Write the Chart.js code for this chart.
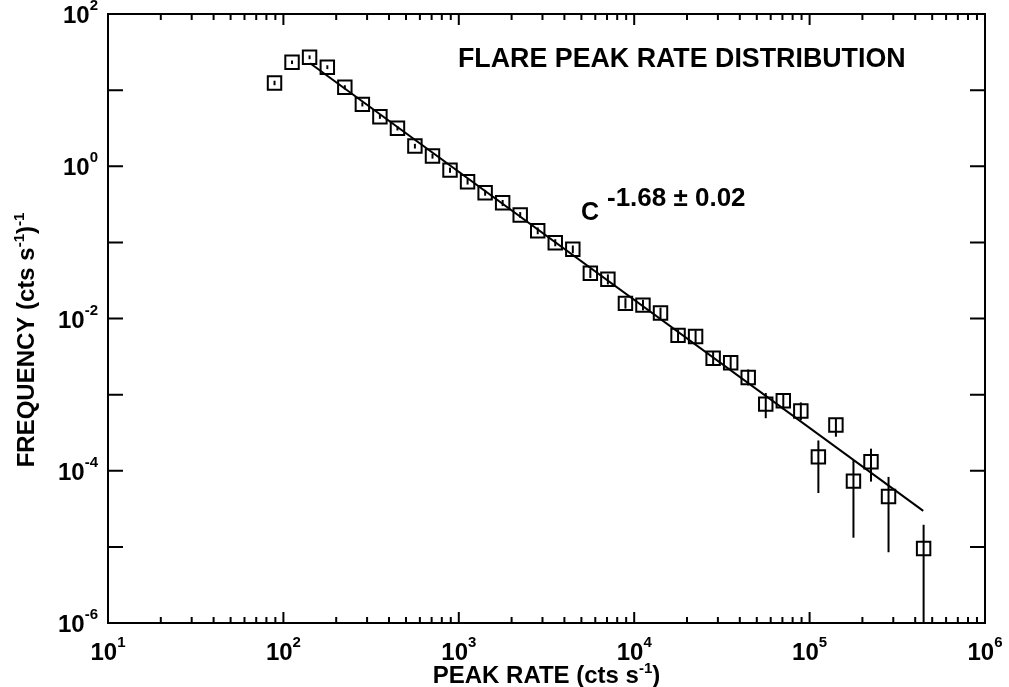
<!DOCTYPE html>
<html>
<head>
<meta charset="utf-8">
<script src="https://cdn.jsdelivr.net/npm/chart.js@4"></script>
<style>
  body { margin: 0; background: #fff; }
  #wrap { width: 1009px; height: 687px; }
</style>
</head>
<body>
<div id="wrap"><canvas id="myChart" width="1009" height="687"></canvas></div>
<script>
// peak rate bins (cts s^-1) and frequency
const peakRate = [89, 112, 141, 178, 224, 282, 355, 447, 562, 708, 891, 1122, 1413, 1778,
  2239, 2818, 3548, 4467, 5623, 7079, 8913, 11220, 14125, 17783, 22387, 28184, 35481,
  44668, 56234, 70795, 89125, 112202, 141254, 177828, 223872, 281838, 446684];
const frequency = [12.4, 23.2, 27, 20, 10.9, 6.5, 4.47, 3.15, 1.84, 1.36, 0.89, 0.625,
  0.449, 0.331, 0.229, 0.142, 0.0989, 0.081, 0.0392, 0.0327, 0.0158, 0.015, 0.0118,
  0.0060, 0.0058, 0.0030, 0.00262, 0.00168, 7.5e-4, 8.3e-4, 6.1e-4, 1.52e-4, 3.98e-4,
  7.3e-5, 1.31e-4, 4.6e-5, 9.5e-6];
const freqLow = [11.6, 22.0, 25.5, 18.9, 10.2, 6.1, 4.2, 2.95, 1.71, 1.26, 0.82, 0.575,
  0.41, 0.30, 0.21, 0.128, 0.089, 0.072, 0.034, 0.028, 0.0135, 0.0128, 0.0100,
  0.0050, 0.0048, 0.0024, 0.0021, 0.00132, 4.9e-4, 6.4e-4, 4.6e-4, 5.1e-5, 2.8e-4,
  1.32e-5, 7.2e-5, 8.5e-6, 1e-7];
const freqHigh = [13.3, 24.5, 28.6, 21.2, 11.6, 6.9, 4.75, 3.36, 1.97, 1.46, 0.96, 0.68,
  0.49, 0.36, 0.25, 0.157, 0.110, 0.091, 0.045, 0.038, 0.0185, 0.0176, 0.0139,
  0.0072, 0.0070, 0.0037, 0.0033, 0.00214, 1.05e-3, 1.05e-3, 7.9e-4, 2.5e-4, 4.9e-4,
  1.38e-4, 1.95e-4, 8.3e-5, 1.95e-5];

// power law fit, end points
const fitRate = [142, 444600];
const fitFreq = [22.5, 2.97e-5];

const xDecades = [1, 2, 3, 4, 5, 6];
const yDecades = [2, 1, 0, -1, -2, -3, -4, -5, -6];
const yLabelDecades = [2, 0, -2, -4, -6];

const FONT = '"Liberation Sans", Arial, Helvetica, sans-serif';

// text with superscripts: parts = [[text, isSup], ...]
const drawRich = (c, parts, x, y, align, big, small, rise) => {
  let w = 0;
  parts.forEach((p) => {
    c.font = `bold ${p[1] ? small : big}px ${FONT}`;
    w += c.measureText(p[0]).width;
  });
  let cx = align === "center" ? x - w / 2 : align === "right" ? x - w : x;
  c.textAlign = "left";
  c.textBaseline = "alphabetic";
  parts.forEach((p) => {
    c.font = `bold ${p[1] ? small : big}px ${FONT}`;
    c.fillText(p[0], cx, p[1] ? y - rise : y);
    cx += c.measureText(p[0]).width;
  });
};

const errorBars = {
  id: "errorBars",
  afterDatasetsDraw(chart) {
    const c = chart.ctx;
    const xs = chart.scales.x;
    const ys = chart.scales.y;
    const a = chart.chartArea;
    c.save();
    c.beginPath();
    c.rect(a.left, a.top, a.right - a.left, a.bottom - a.top);
    c.clip();
    c.strokeStyle = "#000";
    c.lineWidth = 2;
    peakRate.forEach((r, i) => {
      const px = xs.getPixelForValue(r);
      c.beginPath();
      c.moveTo(px, ys.getPixelForValue(freqLow[i]));
      c.lineTo(px, ys.getPixelForValue(freqHigh[i]));
      c.stroke();
    });
    c.restore();
  },
};

const frame = {
  id: "frame",
  afterDraw(chart) {
    const c = chart.ctx;
    const xs = chart.scales.x;
    const ys = chart.scales.y;
    const a = chart.chartArea;
    c.save();
    c.strokeStyle = "#000";
    c.fillStyle = "#000";
    c.lineWidth = 2;
    c.strokeRect(a.left, a.top, a.right - a.left, a.bottom - a.top);

    // x ticks, inward on bottom and top
    c.beginPath();
    xDecades.forEach((d) => {
      for (let m = 1; m <= 9; m++) {
        if (d === 6 && m > 1) break;
        const px = xs.getPixelForValue(m * Math.pow(10, d));
        const len = m === 1 ? 11 : 6;
        c.moveTo(px, a.bottom);
        c.lineTo(px, a.bottom - len);
        c.moveTo(px, a.top);
        c.lineTo(px, a.top + len);
      }
    });
    // y ticks, one per decade
    yDecades.forEach((d) => {
      const py = ys.getPixelForValue(Math.pow(10, d));
      c.moveTo(a.left, py);
      c.lineTo(a.left + 15, py);
      c.moveTo(a.right, py);
      c.lineTo(a.right - 15, py);
    });
    c.stroke();

    xDecades.forEach((d) => {
      const px = xs.getPixelForValue(Math.pow(10, d));
      drawRich(c, [["10", false], [String(d), true]], px, 660, "center", 24, 15, 13);
    });
    yLabelDecades.forEach((d) => {
      const py = ys.getPixelForValue(Math.pow(10, d));
      const e = d < 0 ? "-" + Math.abs(d) : String(d);
      drawRich(c, [["10", false], [e, true]], 98, py + 9, "right", 24, 15, 13);
    });

    // axis titles
    drawRich(c, [["PEAK RATE (cts s", false], ["-1", true], [")", false]],
      (a.left + a.right) / 2, 683, "center", 24, 15, 10);
    c.save();
    c.translate(34, 340);
    c.rotate(-Math.PI / 2);
    drawRich(c, [["FREQUENCY (cts s", false], ["-1", true], [")", false], ["-1", true]],
      0, 0, "center", 24, 15, 10);
    c.restore();

    // annotations
    drawRich(c, [["FLARE PEAK RATE DISTRIBUTION", false]], 458, 67, "left", 26.8, 14, 0);
    drawRich(c, [["C", false]], 581, 220, "left", 25, 14, 0);
    drawRich(c, [["-1.68 \u00b1 0.02", false]], 607, 206, "left", 26, 14, 0);
    c.restore();
  },
};

const ctx = document.getElementById("myChart");

const myChart = new Chart(ctx, {
  type: "scatter",
  data: {
    datasets: [
      {
        label: "fit",
        data: fitRate.map((r, i) => ({ x: r, y: fitFreq[i] })),
        showLine: true,
        borderColor: "#000",
        borderWidth: 2,
        pointRadius: 0,
      },
      {
        label: "flares",
        data: peakRate.map((r, i) => ({ x: r, y: frequency[i] })),
        pointStyle: "rect",
        pointRadius: 9.5,
        borderWidth: 2,
        borderColor: "#000",
        backgroundColor: "rgba(0,0,0,0)",
      },
    ],
  },
  plugins: [errorBars, frame],
  options: {
    responsive: false,
    animation: false,
    layout: { padding: { left: 108, right: 24, top: 14, bottom: 64 } },
    plugins: { legend: { display: false }, tooltip: { enabled: false } },
    scales: {
      x: { type: "logarithmic", min: 10, max: 1e6, display: false },
      y: { type: "logarithmic", min: 1e-6, max: 100, display: false },
    },
  },
});
</script>
</body>
</html>
